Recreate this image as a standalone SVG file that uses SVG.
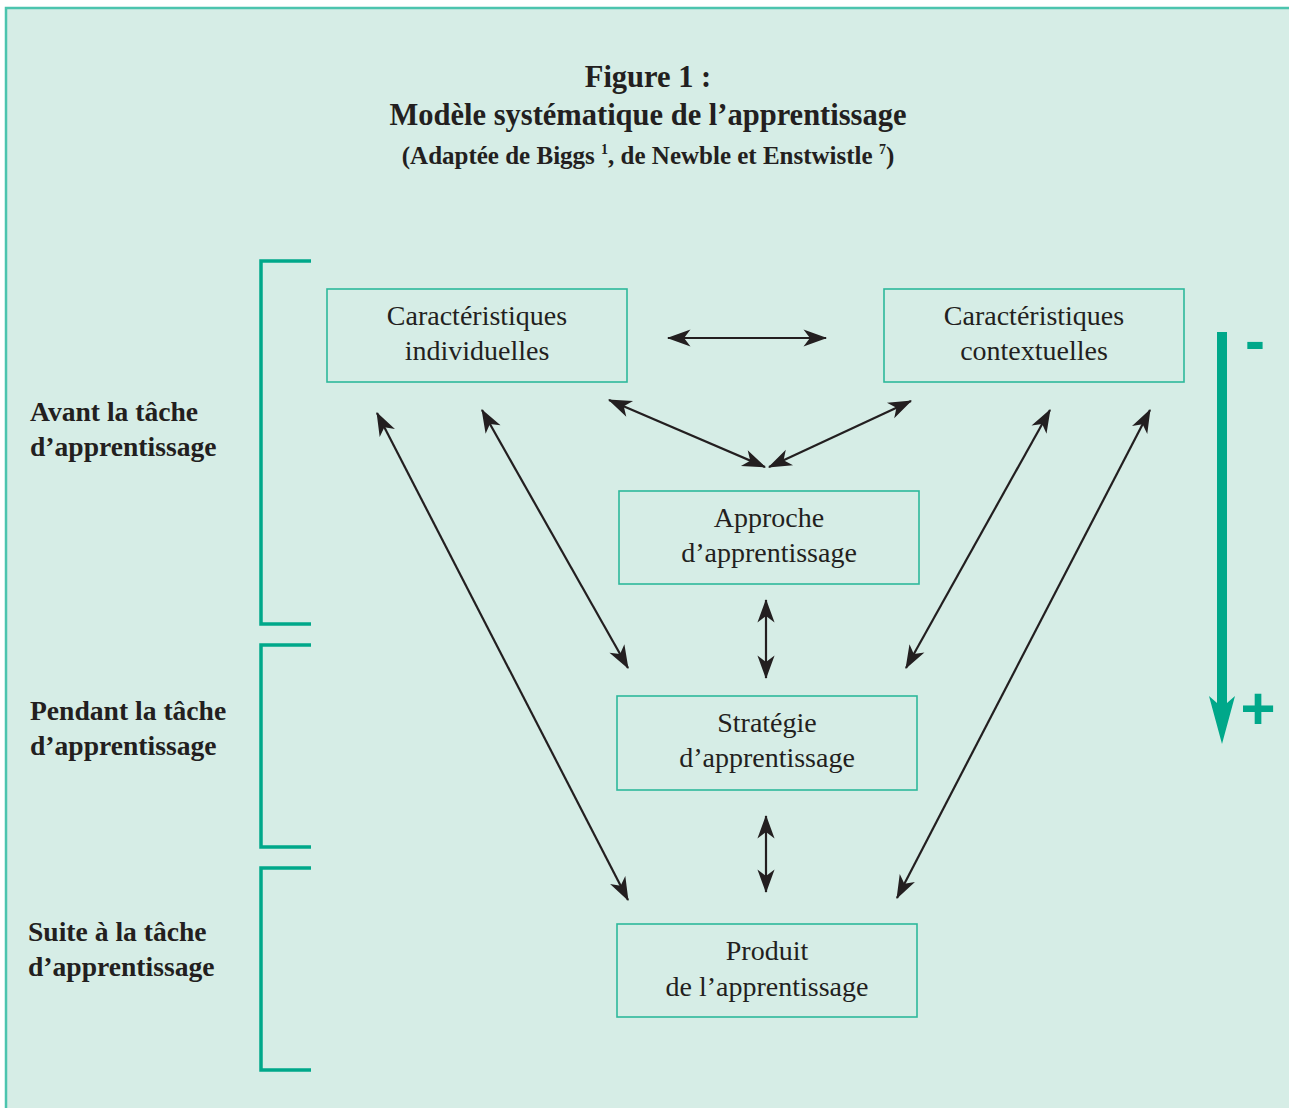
<svg xmlns="http://www.w3.org/2000/svg" width="1289" height="1108" viewBox="0 0 1289 1108">
<style>
.bg{fill:#d6ede6}
.frame{fill:none;stroke:#4cc4ae;stroke-width:2.5}
.box{fill:none;stroke:#2db89c;stroke-width:1.6}
.bt{font-family:"Liberation Serif",serif;font-size:28px;fill:#231f20;text-anchor:middle}
.lbl{font-family:"Liberation Serif",serif;font-size:27.6px;font-weight:bold;fill:#231f20}
.title{font-family:"Liberation Serif",serif;font-weight:bold;fill:#231f20;text-anchor:middle}
.br{fill:none;stroke:#00a88a;stroke-width:3.5}
.con{stroke:#231f20;stroke-width:2.2;fill:none;marker-start:url(#ah);marker-end:url(#ah)}
.pm{font-family:"Liberation Sans",sans-serif;font-weight:bold;font-size:60px;fill:#00a88a;text-anchor:middle}
</style>
<defs>
<marker id="ah" markerUnits="userSpaceOnUse" markerWidth="30" markerHeight="30" viewBox="-24 -10 28 20" refX="0" refY="0" orient="auto-start-reverse">
<path d="M1,0 L-21,-8 L-15,0 L-21,8 Z" fill="#231f20"/>
</marker>
</defs>
<rect x="0" y="0" width="1289" height="1108" fill="#ffffff"/>
<rect class="bg" x="6" y="8" width="1283" height="1100"/>
<path class="frame" d="M6,1108 V8 H1289"/>

<g id="title">
<text class="title" x="648" y="87" font-size="30.5">Figure 1 :</text>
<text class="title" x="648" y="125" font-size="30.5">Modèle systématique de l’apprentissage</text>
<text class="title" x="648" y="164" font-size="25">(Adaptée de Biggs <tspan font-size="14" dy="-10">1</tspan><tspan dy="10">, de Newble et Enstwistle </tspan><tspan font-size="14" dy="-10">7</tspan><tspan dy="10">)</tspan></text>
</g>

<g id="brackets">
<path class="br" d="M311,261 H261 V624 H311"/>
<path class="br" d="M311,645 H261 V847 H311"/>
<path class="br" d="M311,868 H261 V1070 H311"/>
</g>

<g id="phase-labels">
<g id="label-avant"><text class="lbl" x="30" y="421">Avant la tâche</text><text class="lbl" x="30" y="456">d’apprentissage</text></g>
<g id="label-pendant"><text class="lbl" x="30" y="720">Pendant la tâche</text><text class="lbl" x="30" y="755">d’apprentissage</text></g>
<g id="label-suite"><text class="lbl" x="28" y="941">Suite à la tâche</text><text class="lbl" x="28" y="976">d’apprentissage</text></g>
</g>

<g id="node-indiv">
<rect class="box" x="327" y="289" width="300" height="93"/>
<text class="bt" x="477" y="325">Caractéristiques</text>
<text class="bt" x="477" y="360">individuelles</text>
</g>
<g id="node-context">
<rect class="box" x="884" y="289" width="300" height="93"/>
<text class="bt" x="1034" y="325">Caractéristiques</text>
<text class="bt" x="1034" y="360">contextuelles</text>
</g>
<g id="node-approche">
<rect class="box" x="619" y="491" width="300" height="93"/>
<text class="bt" x="769" y="527">Approche</text>
<text class="bt" x="769" y="562">d’apprentissage</text>
</g>
<g id="node-strategie">
<rect class="box" x="617" y="696" width="300" height="94"/>
<text class="bt" x="767" y="732">Stratégie</text>
<text class="bt" x="767" y="767">d’apprentissage</text>
</g>
<g id="node-produit">
<rect class="box" x="617" y="924" width="300" height="93"/>
<text class="bt" x="767" y="960">Produit</text>
<text class="bt" x="767" y="996">de l’apprentissage</text>
</g>

<g id="connectors">
<line class="con" x1="668" y1="338" x2="826" y2="338"/>
<line class="con" x1="609" y1="400" x2="765" y2="467"/>
<line class="con" x1="911" y1="401" x2="769" y2="467"/>
<line class="con" x1="377" y1="413" x2="628" y2="900"/>
<line class="con" x1="482" y1="410" x2="628" y2="668"/>
<line class="con" x1="1050" y1="410" x2="906" y2="668"/>
<line class="con" x1="1150" y1="410" x2="897" y2="898"/>
<line class="con" x1="766" y1="600" x2="766" y2="678"/>
<line class="con" x1="766" y1="816" x2="766" y2="892"/>
</g>

<g id="gradient-arrow">
<rect x="1217" y="332" width="10" height="372" fill="#00a88a"/>
<polygon points="1217,703 1209,696 1222,744 1235,696 1227,703" fill="#00a88a"/>
<text class="pm" x="1255" y="361">-</text>
<text class="pm" x="1258" y="729">+</text>
</g>
</svg>
